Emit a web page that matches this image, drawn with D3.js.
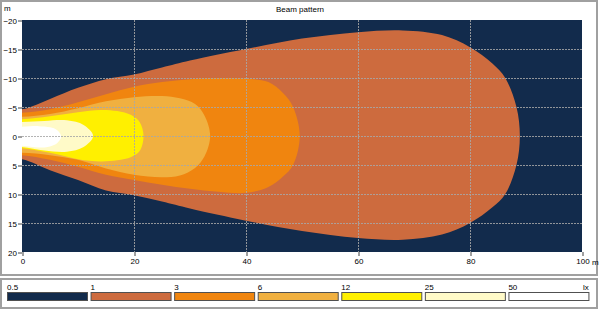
<!DOCTYPE html>
<html>
<head>
<meta charset="utf-8">
<script src="https://cdn.jsdelivr.net/npm/d3@7"></script>
<style>
  body { margin: 0; background: #ffffff; }
  svg text { font-family: "Liberation Sans", Arial, sans-serif; font-size: 8px; fill: #000; }
</style>
</head>
<body>
<svg id="chart" width="600" height="310"></svg>
<script>
// illuminance levels (lx) and their colours
const levels = ["0.5", "1", "3", "6", "12", "25", "50"];
const levelColors = ["#122b4c", "#cd6b3e", "#f0850f", "#f0b040", "#fff000", "#fffac8", "#ffffff"];

// axis ticks
const xTicks = [0, 20, 40, 60, 80, 100];
const yTicks = [-20, -15, -10, -5, 0, 5, 10, 15, 20];

// contour edges, x in m, top / bottom in m
const edge1x   = [0, 5, 10, 15, 20, 25, 30, 40, 50, 60, 68, 75, 80, 84, 86.3, 88.3, 88.9];
const edge1Top = [-4.6, -6.4, -8.3, -9.8, -10.6, -11.8, -13, -15, -16.8, -17.9, -18.2, -17.4, -15.3, -12.5, -10, -5, 0];
const edge1Bot = [4.0, 5.9, 7.6, 9.4, 10.2, 11.3, 12.5, 14.6, 16.4, 17.6, 17.9, 17.0, 15.0, 12.3, 10, 5, 0];

const edge3x   = [0, 5, 10, 15, 20, 25, 30, 35, 40, 44, 46.6, 48.4, 49.6];
const edge3Top = [-4.0, -4.6, -5.8, -7.2, -8.5, -9.3, -9.8, -10, -9.9, -9.3, -7.4, -5, 0];
const edge3Bot = [3.3, 4.1, 5.3, 6.7, 7.6, 8.4, 9.1, 9.6, 9.8, 8.8, 7.0, 5, 0];

const edge6x   = [0, 5, 10, 15, 20, 25, 28.2, 30.9, 32.6, 33.6];
const edge6Top = [-3.3, -3.8, -4.8, -6.0, -6.7, -6.9, -6.5, -5.5, -3.5, 0];
const edge6Bot = [2.9, 3.3, 4.1, 5.6, 6.7, 7.1, 6.8, 5.5, 3.5, 0];

const edge12x   = [0, 5, 10, 14, 17, 19.5, 21, 21.7];
const edge12Top = [-2.9, -3.4, -4.1, -4.5, -4.3, -3.6, -2.4, 0];
const edge12Bot = [2.1, 2.9, 4.0, 4.4, 4.2, 3.6, 2.6, 0];

const edge25x   = [0, 4, 8, 11, 12.7];
const edge25Top = [-2.4, -2.6, -2.7, -1.9, 0];
const edge25Bot = [1.9, 2.5, 2.7, 1.9, 0];

const edge50x   = [0, 3, 5, 6.3, 7];
const edge50Top = [-1.6, -1.7, -1.5, -1.0, 0.1];
const edge50Bot = [1.7, 2.0, 1.8, 1.2, 0.1];

const contours = [
    [edge1x, edge1Top, edge1Bot, 1],
    [edge3x, edge3Top, edge3Bot, 2],
    [edge6x, edge6Top, edge6Bot, 3],
    [edge12x, edge12Top, edge12Bot, 4],
    [edge25x, edge25Top, edge25Bot, 5],
    [edge50x, edge50Top, edge50Bot, 6]
];

const svg = d3.select("#chart");

const x = d3.scaleLinear().domain([0, 100]).range([22, 582]);
const y = d3.scaleLinear().domain([-20, 20]).range([20, 252]);

// panels
svg.append("rect")
    .attr("x", 1).attr("y", 1).attr("width", 596).attr("height", 274)
    .style("fill", "#fff").style("stroke", "#a0a0a0").style("stroke-width", 2);
svg.append("rect")
    .attr("x", 1).attr("y", 279).attr("width", 596).attr("height", 29)
    .style("fill", "#fff").style("stroke", "#a0a0a0").style("stroke-width", 2);

svg.append("text")
    .attr("x", 300).attr("y", 12)
    .attr("text-anchor", "middle")
    .text("Beam pattern");
svg.append("text").attr("x", 4).attr("y", 11).text("m");

svg.append("clipPath").attr("id", "plotclip")
    .append("rect")
    .attr("x", x(0)).attr("y", y(-20))
    .attr("width", x(100) - x(0)).attr("height", y(20) - y(-20));

const plot = svg.append("g").attr("clip-path", "url(#plotclip)");

plot.append("rect")
    .attr("x", x(0)).attr("y", y(-20))
    .attr("width", x(100) - x(0)).attr("height", y(20) - y(-20))
    .style("fill", levelColors[0]);

const line = d3.line()
    .x(d => x(d[0]))
    .y(d => y(d[1]))
    .curve(d3.curveCatmullRomClosed);

for (const c of contours) {
    const xs = c[0], top = c[1], bot = c[2];
    let pts = [];
    // go round: top left->right, bottom right->left, then close outside the plot
    for (let i = 0; i < xs.length; i++) pts.push([xs[i], top[i]]);
    for (let i = xs.length - 2; i >= 0; i--) pts.push([xs[i], bot[i]]);
    pts.push([-4, bot[0]]);
    pts.push([-4, top[0]]);
    plot.append("path")
        .attr("d", line(pts))
        .style("fill", levelColors[c[3]]);
}

// grid
plot.selectAll(".vgrid")
    .data(xTicks.slice(1, -1))
    .enter().append("line")
    .attr("x1", d => x(d) + 0.5).attr("x2", d => x(d) + 0.5)
    .attr("y1", y(-20)).attr("y2", y(20))
    .style("stroke", "#a8a8a8").style("stroke-width", 1)
    .style("stroke-dasharray", "2,1")
    .style("opacity", 0.85);
plot.selectAll(".hgrid")
    .data(yTicks.slice(1, -1))
    .enter().append("line")
    .attr("x1", x(0)).attr("x2", x(100))
    .attr("y1", d => y(d) + 0.5).attr("y2", d => y(d) + 0.5)
    .style("stroke", "#a8a8a8").style("stroke-width", 1)
    .style("stroke-dasharray", "2,1")
    .style("opacity", 0.85);

// axes
const yAxis = svg.append("g")
    .attr("transform", "translate(" + x(0) + ",0.5)")
    .call(d3.axisLeft(y).tickValues(yTicks).tickSize(4).tickPadding(1));
const xAxis = svg.append("g")
    .attr("transform", "translate(0.5," + y(20) + ")")
    .call(d3.axisBottom(x).tickValues(xTicks).tickSize(4).tickPadding(2));
for (const ax of [yAxis, xAxis]) {
    ax.select(".domain").remove();
    ax.selectAll("line").style("stroke", "#404040");
    ax.selectAll("text").style("font-size", "8px").attr("font-family", null);
}
svg.append("text")
    .attr("x", x(100) + 10).attr("y", y(20) + 12.5)
    .text("m");

// legend
const lx = d3.scaleLinear().domain([0, levels.length]).range([7, 592]);
const legend = svg.append("g");
legend.selectAll("rect")
    .data(levels)
    .enter().append("rect")
    .attr("x", (d, i) => lx(i) + 0.5)
    .attr("y", 292.5)
    .attr("width", 80)
    .attr("height", 8)
    .style("fill", (d, i) => levelColors[i])
    .style("stroke", "#505050")
    .style("stroke-width", 1);
legend.selectAll("text")
    .data(levels)
    .enter().append("text")
    .attr("x", (d, i) => lx(i))
    .attr("y", 290)
    .text(d => d);
legend.append("text")
    .attr("x", 583).attr("y", 290)
    .text("lx");
</script>
</body>
</html>
